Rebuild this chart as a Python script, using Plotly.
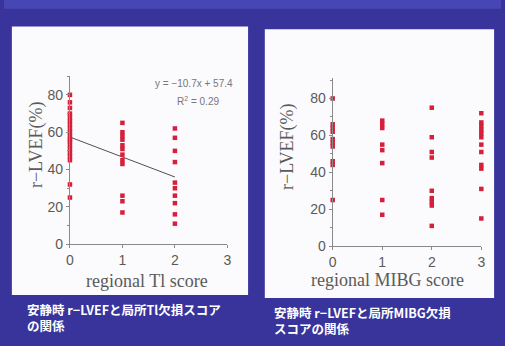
import plotly.graph_objects as go

W, H = 505, 346

# Resting r-LVEF (%) grouped by regional Tl defect score
tl_score_0 = [80, 76, 73, 70, 68, 66, 64, 62, 60, 58, 56, 55, 53, 51, 49, 47, 45, 32, 25]
tl_score_1 = [65, 60, 58, 56, 53, 51, 48, 45, 43, 26, 23, 17]
tl_score_2 = [62, 57, 50, 44, 33, 30, 26, 22, 16, 11]

# Resting r-LVEF (%) grouped by regional MIBG defect score
mibg_score_0 = [80, 66, 64, 62, 58, 56, 54, 46, 44, 25]
mibg_score_1 = [68, 66, 64, 55, 52, 45, 25, 17]
mibg_score_2 = [75, 59, 51, 48, 30, 26, 24, 22, 11]
mibg_score_3 = [72, 67, 65, 63, 61, 59, 55, 51, 44, 42, 31, 15]

# Linear fit for the Tl panel
fit_slope = -10.7
fit_intercept = 57.4
fit_r2 = 0.29
fit_x = [0, 2]

x_ticks = [0, 1, 2, 3]
y_ticks = [0, 20, 40, 60, 80]

BLUE = "#38349c"
PANEL = "#fbfafc"
RED = "#d5203c"
AXIS = "#8a8a8a"
TICKTXT = "#5a5a5a"


def px(x):
    return x / W


def py(y):
    return 1 - y / H


def group_xy(groups):
    xs, ys = [], []
    for score, vals in groups:
        xs += [score] * len(vals)
        ys += vals
    return xs, ys


fig = go.Figure()

tl_x, tl_y = group_xy([(0, tl_score_0), (1, tl_score_1), (2, tl_score_2)])
mibg_x, mibg_y = group_xy([(0, mibg_score_0), (1, mibg_score_1),
                           (2, mibg_score_2), (3, mibg_score_3)])

fig.add_trace(go.Scatter(
    x=fit_x, y=[fit_slope * v + fit_intercept for v in fit_x],
    mode="lines", line=dict(color="#505050", width=1),
    xaxis="x", yaxis="y", showlegend=False, hoverinfo="skip"))
fig.add_trace(go.Scatter(
    x=tl_x, y=tl_y, mode="markers",
    marker=dict(symbol="square", size=4.5, color=RED),
    xaxis="x", yaxis="y", showlegend=False, cliponaxis=False))
fig.add_trace(go.Scatter(
    x=mibg_x, y=mibg_y, mode="markers",
    marker=dict(symbol="square", size=4.5, color=RED),
    xaxis="x2", yaxis="y2", showlegend=False, cliponaxis=False))

axis_common = dict(
    showline=True, linecolor=AXIS, linewidth=1, showgrid=False, zeroline=False,
    ticks="outside", ticklen=3, tickcolor=AXIS,
    tickfont=dict(family="Liberation Sans", size=14, color=TICKTXT),
)

fig.update_layout(
    width=W, height=H,
    margin=dict(l=0, r=0, t=0, b=0),
    paper_bgcolor=BLUE, plot_bgcolor="rgba(0,0,0,0)",
    xaxis=dict(domain=[px(67), px(227)], range=[0, 3], tickvals=x_ticks,
               anchor="y", **axis_common),
    yaxis=dict(domain=[py(250), py(78)], range=[0, 90], tickvals=y_ticks,
               anchor="x", minor=dict(dtick=10, ticks="outside", ticklen=2, tickcolor=AXIS),
               **axis_common),
    xaxis2=dict(domain=[px(334), px(485)], range=[0, 3], tickvals=x_ticks,
                anchor="y2", **axis_common),
    yaxis2=dict(domain=[py(252), py(80)], range=[0, 91], tickvals=y_ticks,
                anchor="x2", minor=dict(dtick=10, ticks="outside", ticklen=2, tickcolor=AXIS),
                **axis_common),
)

# background: lighter band on top, white chart panels
fig.add_shape(type="rect", xref="paper", yref="paper", layer="below",
              x0=0, x1=1, y0=py(9), y1=1, fillcolor="#4646b4", line_width=0)
fig.add_shape(type="rect", xref="paper", yref="paper", layer="below",
              x0=px(8), x1=px(248), y0=py(302), y1=py(27), fillcolor=PANEL, line_width=0)
fig.add_shape(type="rect", xref="paper", yref="paper", layer="below",
              x0=px(265), x1=px(498), y0=py(305), y1=py(30), fillcolor=PANEL, line_width=0)

serif = dict(family="Liberation Serif", size=18, color="#5a5a5a")
cap = dict(family="Noto Sans CJK JP", size=12.5, color="white")


def note(x, y, text, font, angle=0, xanchor="center", align="center"):
    fig.add_annotation(x=px(x), y=py(y), xref="paper", yref="paper", text=text,
                       showarrow=False, font=font, textangle=angle,
                       xanchor=xanchor, yanchor="middle", align=align)


note(33, 148, "r−LVEF(%)", serif, angle=-90)
note(288, 150, "r−LVEF(%)", serif, angle=-90)
note(145, 288, "regional Tl score", serif)
note(390, 287, "regional MIBG score", serif)

eq_font = dict(family="Liberation Sans Narrow, Liberation Sans", size=10, color="#777777")
note(193, 85, f"y = −{abs(fit_slope)}x + {fit_intercept}", eq_font)
note(197, 103, f"R<sup>2</sup> = {fit_r2}", eq_font)

note(21, 325, "<b>安静時 r−LVEFと局所Tl欠損スコア<br>の関係</b>", cap,
     xanchor="left", align="left")
note(272, 328, "<b>安静時 r−LVEFと局所MIBG欠損<br>スコアの関係</b>", cap,
     xanchor="left", align="left")

fig.write_html("out.html")
